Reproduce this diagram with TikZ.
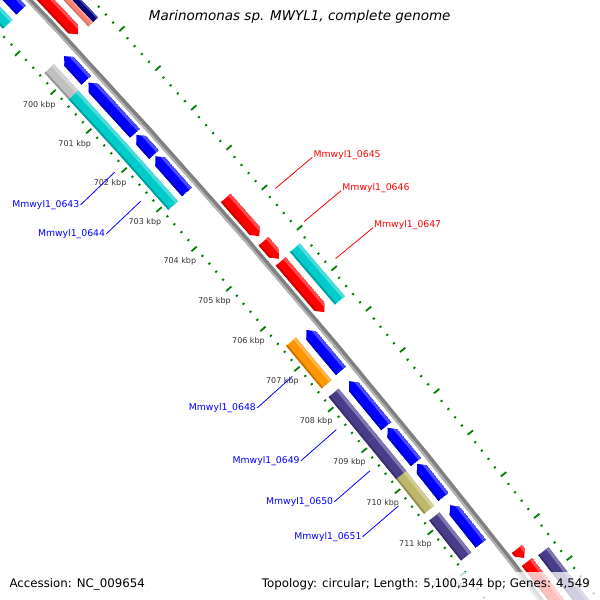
\documentclass[tikz,border=0pt]{standalone}
\usepackage{fontspec}
\setmainfont{DejaVu Sans}

\definecolor{cogblue}{RGB}{0,0,255}
\definecolor{cogred}{RGB}{255,0,0}
\definecolor{cogcyan}{RGB}{0,204,204}
\definecolor{coggray}{RGB}{192,192,192}
\definecolor{cogorange}{RGB}{255,150,0}
\definecolor{cogpurple}{RGB}{72,61,139}
\definecolor{cogkhaki}{RGB}{189,183,107}
\definecolor{cogsalmon}{RGB}{250,128,114}
\definecolor{cognavy}{RGB}{0,0,128}
\definecolor{tickgreen}{RGB}{0,128,0}
\definecolor{backbonedark}{RGB}{128,128,128}
\definecolor{backbonelight}{RGB}{180,180,180}

% angle of a position given in kbp
\newcommand{\kang}[1]{(-42.30+0.379*((#1)-701))}
\newcommand{\headkb}{0.14}

% plain piece of a ring between two angles and two radii
\newcommand{\featbox}[5]{%
  \fill[#1] (#2:#4) -- (#3:#4) -- (#3:#5) -- (#2:#5) -- cycle;}

% piece of a ring with a light outer edge and a dark inner edge
\newcommand{\shadebox}[5]{%
  \pgfmathsetmacro\sL{#5-0.25*(#5-#4)}%
  \pgfmathsetmacro\sD{#4+0.14*(#5-#4)}%
  \featbox{#1}{#2}{#3}{#4}{#5}%
  \featbox{#1!70!white}{#2}{#3}{\sL}{#5}%
  \featbox{#1!78!black}{#2}{#3}{#4}{\sD}}

% COG bar: colour, from kbp, to kbp, inner radius, outer radius
\newcommand{\cogbar}[5]{%
  \pgfmathsetmacro\cA{\kang{#2}}%
  \pgfmathsetmacro\cB{\kang{#3}}%
  \shadebox{#1}{\cA}{\cB}{#4}{#5}}

% gene on the forward strand (outer slot)
\newcommand{\fwdgene}[3]{%
  \pgfmathsetmacro\gA{\kang{#2+0.02}}%
  \pgfmathsetmacro\gH{\kang{max(#2+0.03,#3-0.02-\headkb)}}%
  \pgfmathsetmacro\gT{\kang{#3-0.02}}%
  \begin{scope}
    \clip (\gA:8020) -- (\gH:8020) -- (\gT:8026.5) -- (\gH:8033) -- (\gA:8033) -- cycle;
    \shadebox{#1}{\gA}{\gT}{8020}{8033}%
  \end{scope}}

% gene on the reverse strand (inner slot)
\newcommand{\revgene}[3]{%
  \pgfmathsetmacro\gT{\kang{#2+0.02}}%
  \pgfmathsetmacro\gH{\kang{min(#3-0.03,#2+0.02+\headkb)}}%
  \pgfmathsetmacro\gE{\kang{#3-0.02}}%
  \begin{scope}
    \clip (\gT:8001.5) -- (\gH:7995) -- (\gE:7995) -- (\gE:8008) -- (\gH:8008) -- cycle;
    \shadebox{#1}{\gT}{\gE}{7995}{8008}%
  \end{scope}}

\begin{document}
\begin{tikzpicture}[x=1pt,y=-1pt,
    majortick/.style={draw=tickgreen,line width=1.8pt},
    minortick/.style={draw=tickgreen,line width=1.8pt},
    kbplabel/.style={font=\fontsize{8}{9}\selectfont,text=black!80,inner sep=0pt},
    revlabel/.style={font=\fontsize{9.3}{11}\selectfont,text=cogblue,anchor=east,inner sep=1pt,yshift=-2pt},
    fwdlabel/.style={font=\fontsize{9.3}{11}\selectfont,text=cogred,anchor=base west,inner sep=1pt,yshift=-1pt},
    revline/.style={draw=cogblue,line width=0.8pt},
    fwdline/.style={draw=cogred,line width=0.8pt},
    titletext/.style={font=\fontsize{13.5}{16}\selectfont\itshape,inner sep=0pt},
    foottext/.style={font=\fontsize{11.8}{14}\selectfont,inner sep=0pt}]
  \useasboundingbox (0,0) rectangle (600,600);
  \clip (0,0) rectangle (600,600);

  \begin{scope}[shift={(-5805,5494)}]
    % Reverse strand genes and their COG bars
    \revgene{cogblue}{697.4}{698.47}
    \cogbar{cogcyan}{697.4}{698.47}{7975.5}{7988.5}
    \revgene{cogblue}{699.62}{700.28}
    \cogbar{coggray}{699.62}{700.30}{7975.5}{7988.5}
    \revgene{cogblue}{700.30}{701.64}
    \cogbar{cogcyan}{700.30}{701.64}{7975.5}{7988.5}
    \revgene{cogblue}{701.64}{702.18}
    \cogbar{cogcyan}{701.64}{702.18}{7975.5}{7988.5}
    \revgene{cogblue}{702.18}{703.12}
    \cogbar{cogcyan}{702.18}{703.12}{7975.5}{7988.5}
    \revgene{cogblue}{706.53}{707.58}
    \cogbar{cogorange}{706.53}{707.58}{7975.5}{7988.5}
    \revgene{cogblue}{707.79}{708.93}
    \cogbar{cogpurple}{707.79}{708.93}{7975.5}{7988.5}
    \revgene{cogblue}{708.93}{709.81}
    \cogbar{cogpurple}{708.93}{709.81}{7975.5}{7988.5}
    \revgene{cogblue}{709.81}{710.65}
    \cogbar{cogkhaki}{709.81}{710.65}{7975.5}{7988.5}
    \revgene{cogblue}{710.81}{711.78}
    \cogbar{cogpurple}{710.81}{711.78}{7975.5}{7988.5}

    % Forward strand genes and their COG bars
    \fwdgene{cogred}{697.3}{699.54}
    \cogbar{cogsalmon}{697.3}{699.54}{8039.5}{8046}
    \cogbar{cognavy}{697.3}{699.54}{8046}{8052.5}
    \fwdgene{cogred}{703.65}{704.65}
    \fwdgene{cogred}{704.73}{705.21}
    \fwdgene{cogred}{705.23}{706.53}
    \cogbar{cogcyan}{705.23}{706.53}{8039.5}{8052.5}
    \fwdgene{cogred}{712.24}{712.50}
    \fwdgene{cogred}{712.55}{714.5}
    \cogbar{cogpurple}{712.60}{714.5}{8039.5}{8052.5}

    % Draw the backbone
    \fill[backbonedark] plot[domain=-44:-36.5,samples=80] (\x:8011.5) -- plot[domain=-36.5:-44,samples=80] (\x:8017) -- cycle;
    \fill[backbonelight] plot[domain=-44:-36.5,samples=80] (\x:8011.5) -- plot[domain=-36.5:-44,samples=80] (\x:8013.5) -- cycle;

    % Ticks on both rulers
    \foreach \k in {697,...,713} {
      \draw[majortick] ({\kang{\k}}:7965.5) -- ({\kang{\k}}:7972.5);
      \draw[majortick] ({\kang{\k}}:8059) -- ({\kang{\k}}:8066);
      \foreach \j in {1,...,4} {
        \draw[minortick] ({\kang{\k+0.2*\j}}:7969.5) -- ({\kang{\k+0.2*\j}}:7971.8);
        \draw[minortick] ({\kang{\k+0.2*\j}}:8059) -- ({\kang{\k+0.2*\j}}:8061.3);
      }
    }
    \foreach \k in {700,...,712}
      \node[kbplabel] (kbp\k) at ({\kang{\k}}:7950) {\k\ kbp};

    % Gene labels
    \foreach \name/\pos in {0643/701.91,0644/702.65,0648/707.05,0649/708.36,0650/709.37,0651/710.23} {
      \coordinate (c\name) at ({\kang{\pos}}:7960.5);
      \node[revlabel] (t\name) at ({\kang{\pos}}:7914.5) {Mmwyl1\_\name};
      \draw[revline] (c\name) -- (t\name.east);
    }
    \foreach \name/\pos in {0645/704.15,0646/704.97,0647/705.88} {
      \coordinate (c\name) at ({\kang{\pos}}:8070);
      \node[fwdlabel] (t\name) at ({\kang{\pos}}:8119) {Mmwyl1\_\name};
      \draw[fwdline] (c\name) -- (t\name.base west);
    }
  \end{scope}

  % Title and footer
  \node[titletext,anchor=base] (title) at (299.7,20.5) {Marinomonas sp. MWYL1, complete genome};
  \fill[white,opacity=0.75] (0,571.5) rectangle (600,600);
  \node[foottext,anchor=base west] (accession) at (9.3,587) {Accession: NC\_009654};
  \node[foottext,anchor=base east] (topology) at (590,587) {Topology: circular; Length: 5,100,344 bp; Genes: 4,549};
\end{tikzpicture}
\end{document}
